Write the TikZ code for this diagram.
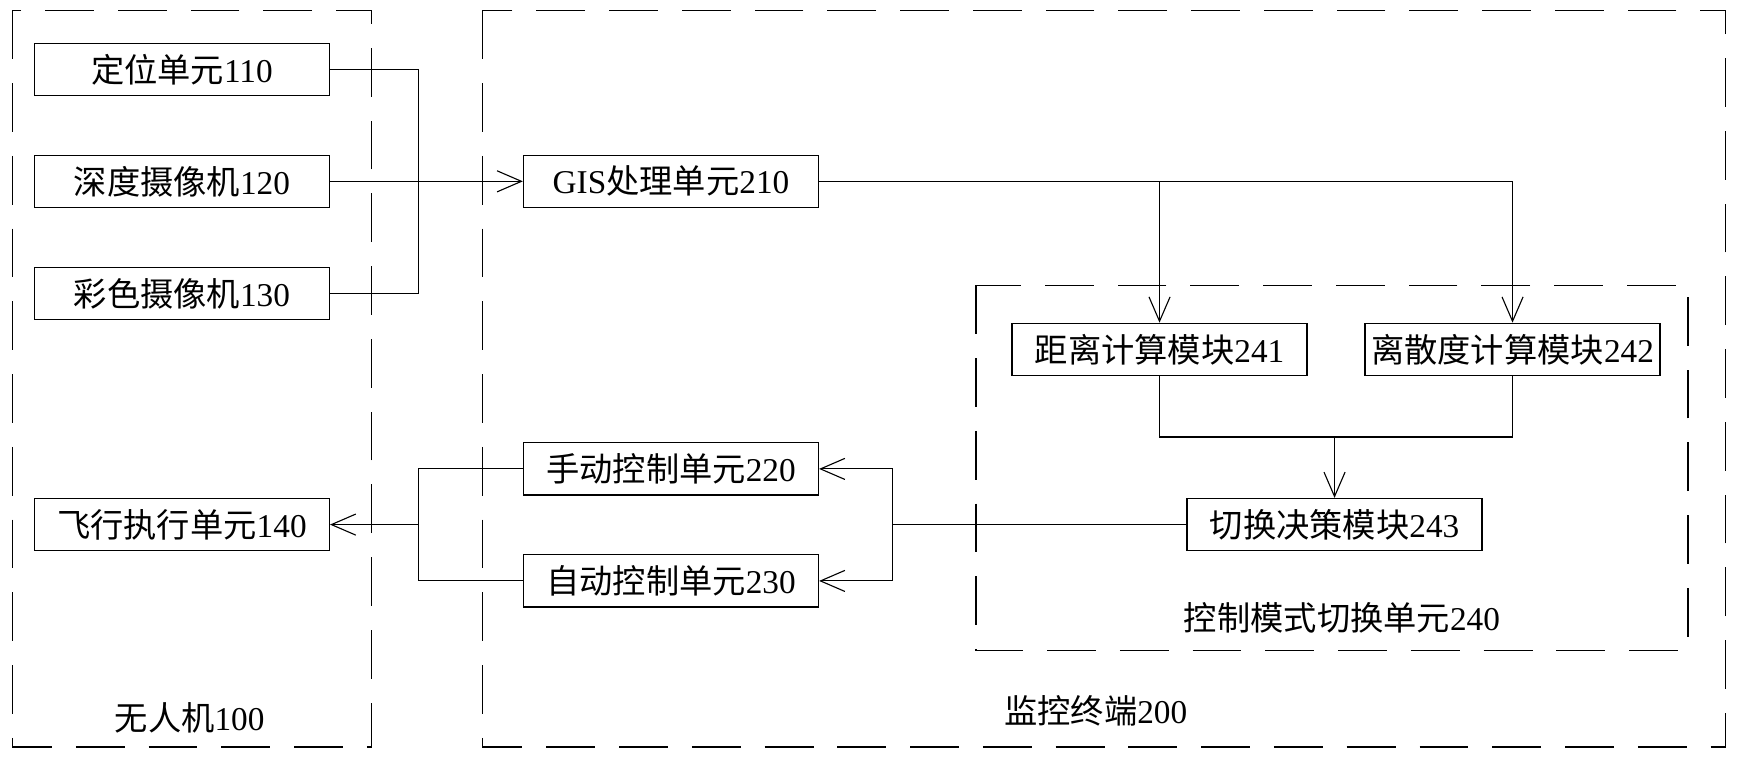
\documentclass[tikz,border=0pt]{standalone}
\usepackage{fontspec}
\setmainfont{Liberation Serif}
\newfontfamily\cjk{Noto Sans CJK SC}
\usetikzlibrary{arrows.meta}
\newcommand\zh[1]{{\cjk #1}}
\begin{document}
\begin{tikzpicture}[x=1pt,y=-1pt,
  box/.style={draw,line width=1.1pt,minimum width=266pt,minimum height=47pt,inner sep=0pt,font=\fontsize{30}{36}\selectfont},
  lbl/.style={inner sep=0pt,font=\fontsize{30}{36}\selectfont},
  dbox/.style={line width=1pt,dash pattern=on 44pt off 21.6pt},
  conn/.style={line width=1pt},
  arr/.style={conn,-{Straight Barb[length=22pt,width=19pt]}}]
\useasboundingbox (0,0) rectangle (1568,686);
% dashed frames
\draw[dbox] (11,9.3) rectangle (334.8,673.5);
\draw[dbox] (435.3,9.3) rectangle (1555.6,673.5);
\draw[dbox] (880,257.3) rectangle (1522,586.7);
% boxes
\node[box] (b110) at (164,62.5) {\zh{定位单元}110};
\node[box] (b120) at (164,163.5) {\zh{深度摄像机}120};
\node[box] (b130) at (164,264.5) {\zh{彩色摄像机}130};
\node[box] (b140) at (164,473) {\zh{飞行执行单元}140};
\node[box] (gis) at (605,163.5) {GIS\zh{处理单元}210};
\node[box] (b220) at (605,422.8) {\zh{手动控制单元}220};
\node[box] (b230) at (605,523.8) {\zh{自动控制单元}230};
\node[box] (b241) at (1045.5,315) {\zh{距离计算模块}241};
\node[box] (b242) at (1363.8,315) {\zh{离散度计算模块}242};
\node[box] (b243) at (1203.3,473) {\zh{切换决策模块}243};
% labels
\node[lbl] (l100) at (171,647) {\zh{无人机}100};
\node[lbl] (l200) at (988,641) {\zh{监控终端}200};
\node[lbl] (l240) at (1210,557) {\zh{控制模式切换单元}240};
% connectors
\coordinate (j1) at (377,62.5);
\draw[conn] (b110.east) -- (j1) |- (b130.east);
\draw[arr] (b120.east) -- (gis.west);
\draw[arr] (gis.east) -| (b242.north);
\draw[arr] (b241.north |- gis.east) -- (b241.north);
\coordinate (jl) at (1045.5,394);
\coordinate (jr) at (1363.8,394);
\draw[conn] (b241.south) -- (jl) -- (jr) -- (b242.south);
\draw[arr] (b243.north |- jl) -- (b243.north);
\coordinate (rb) at (805,473);
\draw[conn] (b243.west) -- (rb);
\draw[conn] (rb |- b220.east) -- (rb |- b230.east);
\draw[arr] (rb |- b220.east) -- (b220.east);
\draw[arr] (rb |- b230.east) -- (b230.east);
\coordinate (lb) at (377,473);
\draw[conn] (b220.west) -| (lb |- b230.west) -- (b230.west);
\draw[arr] (lb) -- (b140.east);
\end{tikzpicture}
\end{document}
